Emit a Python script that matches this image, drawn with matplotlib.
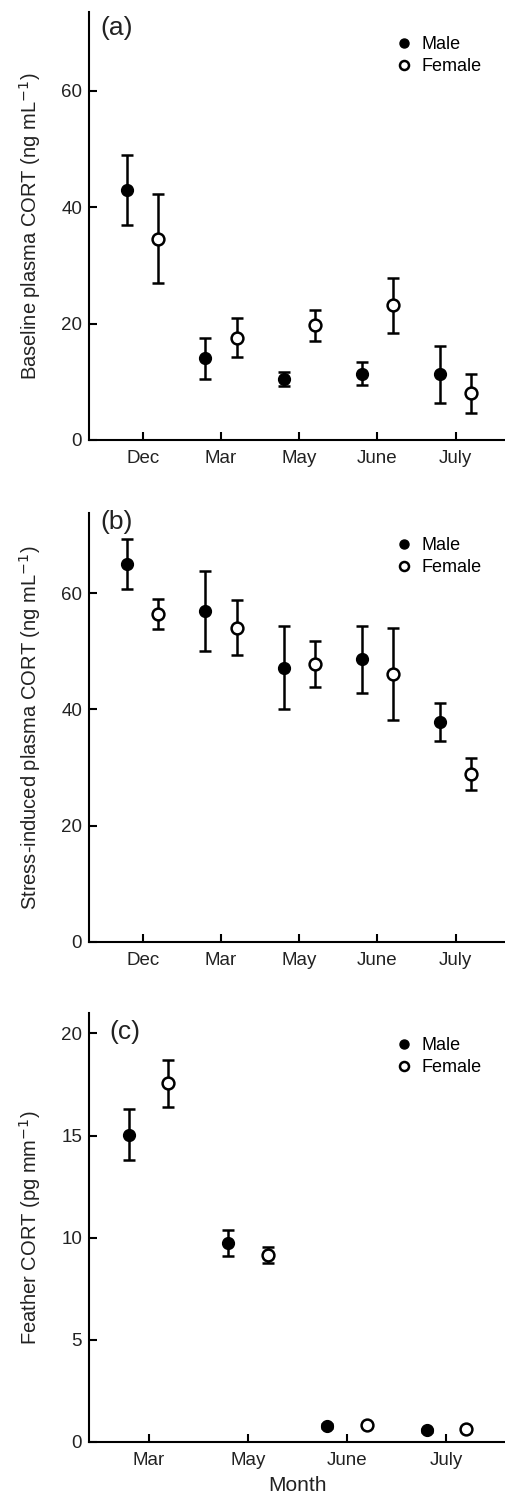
import matplotlib
matplotlib.use("Agg")
import matplotlib.pyplot as plt
import numpy as np

plt.rcParams["font.family"] = ["Liberation Sans", "DejaVu Sans"]

# panel (a) baseline plasma CORT
months_ab = ["Dec", "Mar", "May", "June", "July"]
base_male = [43.0, 14.0, 10.4, 11.4, 11.3]
base_male_err = [6.0, 3.5, 1.2, 2.0, 4.9]
base_female = [34.6, 17.6, 19.7, 23.1, 8.0]
base_female_err = [7.6, 3.4, 2.7, 4.8, 3.3]

# panel (b) stress-induced plasma CORT
stress_male = [65.0, 57.0, 47.2, 48.6, 37.8]
stress_male_err = [4.3, 6.9, 7.2, 5.7, 3.3]
stress_female = [56.4, 54.1, 47.8, 46.1, 28.9]
stress_female_err = [2.6, 4.8, 4.0, 7.9, 2.7]

# panel (c) feather CORT
months_c = ["Mar", "May", "June", "July"]
feather_male = [15.05, 9.75, 0.77, 0.57]
feather_male_err = [1.25, 0.63, 0.1, 0.08]
feather_female = [17.55, 9.16, 0.85, 0.62]
feather_female_err = [1.13, 0.4, 0.1, 0.1]

W, H = 505, 1497
fig = plt.figure(figsize=(W / 100, H / 100), dpi=100, facecolor="white")


def axes_px(top, bottom, left=89, right=505):
    return fig.add_axes([left / W, 1 - bottom / H, (right - left) / W, (bottom - top) / H])


def panel(ax, months, male, male_err, female, female_err, ylim, yticks, xlim,
          ylabel, tag, tag_xy):
    x = np.arange(len(months))
    ax.errorbar(x - 0.2, male, yerr=male_err, fmt="o", color="black", ms=8.5,
                mfc="black", mec="black", elinewidth=1.8, capsize=4.5, capthick=1.8,
                label="Male", zorder=3)
    ax.errorbar(x + 0.2, female, yerr=female_err, fmt="o", color="black", ms=8.5,
                mfc="white", mec="black", mew=1.8, elinewidth=1.8, capsize=4.5,
                capthick=1.8, label="Female", zorder=3)
    ax.set_xlim(*xlim)
    ax.set_ylim(*ylim)
    ax.set_xticks(x)
    ax.set_xticklabels(months)
    ax.set_yticks(yticks)
    for s in ("top", "right"):
        ax.spines[s].set_visible(False)
    for s in ("left", "bottom"):
        ax.spines[s].set_linewidth(1.5)
    ax.tick_params(direction="in", length=6, width=1.5, labelsize=13.5,
                   labelcolor="#222", pad=5)
    ax.tick_params(axis="x", pad=7)
    ax.set_ylabel(ylabel, fontsize=14.5, color="#222", labelpad=13)
    ax.text(tag_xy[0], tag_xy[1], tag, transform=ax.transAxes, fontsize=19,
            va="center", ha="left", color="#222")
    h, l = ax.get_legend_handles_labels()
    hh = [plt.Line2D([], [], ls="none", marker="o", ms=6.5, mfc="black", mec="black"),
          plt.Line2D([], [], ls="none", marker="o", ms=6.5, mfc="white", mec="black", mew=1.8)]
    ax.legend(hh, l, loc="upper left", bbox_to_anchor=(0.74, 0.944), frameon=False,
              fontsize=13, handlelength=0.8, handletextpad=0.55, labelspacing=0.3,
              borderpad=0, borderaxespad=0)


ax_a = axes_px(12, 440)
panel(ax_a, months_ab, base_male, base_male_err, base_female, base_female_err,
      (0, 73.5), [0, 20, 40, 60], (-0.686, 4.63),
      "Baseline plasma CORT (ng mL$^{-1}$)", "(a)", (0.028, 0.963))

ax_b = axes_px(513, 942)
panel(ax_b, months_ab, stress_male, stress_male_err, stress_female, stress_female_err,
      (0, 73.8), [0, 20, 40, 60], (-0.686, 4.63),
      "Stress-induced plasma CORT (ng mL$^{-1}$)", "(b)", (0.028, 0.98))

ax_c = axes_px(1013, 1442)
panel(ax_c, months_c, feather_male, feather_male_err, feather_female, feather_female_err,
      (0, 21.0), [0, 5, 10, 15, 20], (-0.60, 3.59),
      "Feather CORT (pg mm$^{-1}$)", "(c)", (0.05, 0.956))
ax_c.set_xlabel("Month", fontsize=15, color="#222", labelpad=5)

fig.savefig("out.png", dpi=100, facecolor="white")
